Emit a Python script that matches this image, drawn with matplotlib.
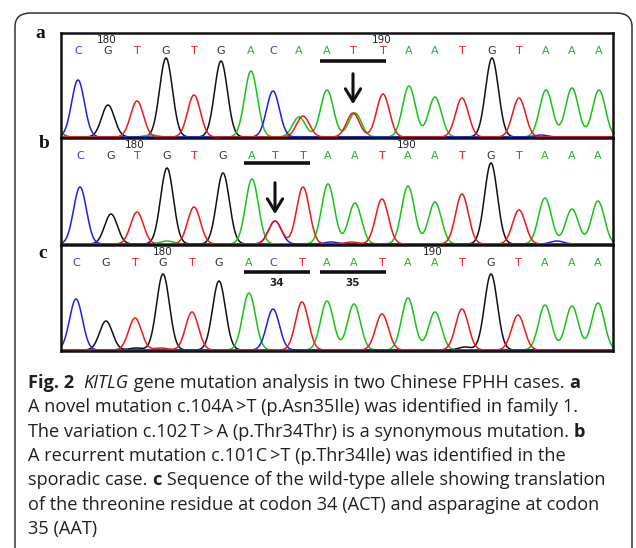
import numpy as np
import matplotlib
matplotlib.use('Agg')
import matplotlib.pyplot as plt
from matplotlib.patches import FancyBboxPatch

### data (positions in scan units, heights in signal units)

calls_a = 'CGTGTGACAATTAATGTAAA'
pos_a = [17, 47, 76, 105, 133, 160, 190, 212, 238, 266, 292, 322, 348, 374, 401, 431, 458, 485, 511, 538]
ht_a = [57, 32, 36, 79, 42, 76, 66, 46, 20, 47, 24, 43, 51, 40, 39, 79, 39, 47, 49, 47]
extra_a = [('T', -8, 10), ('T', 242, 21), ('A', 294, 24), ('A', 90, 2), ('C', 480, 2)]

calls_b = 'CGTGTGATTAATAATGTAAA'
pos_b = [19, 50, 76, 106, 133, 162, 191, 214, 242, 267, 294, 321, 347, 374, 401, 430, 458, 484, 511, 537]
ht_b = [57, 30, 32, 76, 37, 71, 65, 23, 57, 60, 41, 45, 58, 42, 50, 81, 34, 46, 35, 43]
extra_b = [('C', 214, 23), ('A', 106, 3), ('C', 496, 3), ('T', 290, 2), ('C', 270, 2)]

calls_c = 'CGTGTGACTAATAATGTAAA'
pos_c = [15, 45, 74, 102, 131, 158, 188, 212, 241, 266, 293, 321, 347, 374, 401, 430, 457, 484, 511, 537]
ht_c = [51, 29, 32, 76, 38, 69, 57, 41, 48, 49, 46, 36, 52, 38, 41, 76, 35, 45, 44, 47]
extra_c = [('G', 404, 3), ('G', 75, 2), ('T', 100, 2)]

# scan number markers
marks_a = [(46, '180'), (321, '190')]
marks_b = [(74, '180'), (346, '190')]
marks_c = [(102, '180'), (372, '190')]

caption = [
    [('Fig. 2', 'bold'), ('  ', 'normal'), ('KITLG', 'italic'),
     (' gene mutation analysis in two Chinese FPHH cases. ', 'normal'), ('a', 'bold')],
    [('A novel mutation c.104A\u2009>T (p.Asn35Ile) was identified in family 1.', 'normal')],
    [('The variation c.102\u2009T\u2009>\u2009A (p.Thr34Thr) is a synonymous mutation. ', 'normal'), ('b', 'bold')],
    [('A recurrent mutation c.101C\u2009>T (p.Thr34Ile) was identified in the', 'normal')],
    [('sporadic case. ', 'normal'), ('c', 'bold'),
     (' Sequence of the wild-type allele showing translation', 'normal')],
    [('of the threonine residue at codon 34 (ACT) and asparagine at codon', 'normal')],
    [('35 (AAT)', 'normal')],
]

### Helpers

W, H = 636, 548
trace_col = {'A': '#16c416', 'C': '#1f1fee', 'G': '#111111', 'T': '#f01818'}
call_col = {'A': '#22b822', 'C': '#3a3af0', 'G': '#333333', 'T': '#e82222'}
sigma = 6.4


def fx(x):
    return x / W


def fy(y):
    return 1 - y / H


def draw_panel(top, bot, calls, pos, ht, extra, marks):
    ax = fig.add_axes([fx(61), fy(bot), fx(613 - 61), (bot - top) / H])
    h = bot - top
    ax.set_xlim(0, 552)
    ax.set_ylim(-1, h - 1)
    xs = np.arange(-20, 575, 0.5)
    peaks = {b: [] for b in 'ACGT'}
    for c, p, v in zip(calls, pos, ht):
        peaks[c].append((p, v))
    for c, p, v in extra:
        peaks[c].append((p, v))
    for b in 'GACT':
        y = np.zeros_like(xs)
        for p, v in peaks[b]:
            y += v * np.exp(-0.5 * ((xs - p) / sigma) ** 2)
        ax.plot(xs, y, color=trace_col[b], lw=1.1, solid_joinstyle='miter')
    tr = ax.get_xaxis_transform()
    for c, p in zip(calls, pos):
        ax.text(p, 0.83, c, transform=tr, ha='center', va='center',
                color=call_col[c], fontsize=8, family='DejaVu Sans')
    for p, s in marks:
        ax.text(p, 0.935, s, transform=tr, ha='center', va='center',
                color='#222222', fontsize=7.5, family='DejaVu Sans')
    ax.set_xticks([])
    ax.set_yticks([])
    for s in ax.spines.values():
        s.set_linewidth(1.8)
        s.set_color('#111111')
    return ax


fig = plt.figure(figsize=(W / 100, H / 100), dpi=100)

# rounded outer frame (runs past the bottom of the picture)
frame = FancyBboxPatch((fx(15), fy(600)), fx(632 - 15), (600 - 13) / H,
                       boxstyle='round,pad=0,rounding_size=0.025',
                       transform=fig.transFigure, fill=False,
                       ec='#333333', lw=1.1)
fig.patches.append(frame)

ax_a = draw_panel(33, 138, calls_a, pos_a, ht_a, extra_a, marks_a)
ax_b = draw_panel(138, 245, calls_b, pos_b, ht_b, extra_b, marks_b)
ax_c = draw_panel(245, 351, calls_c, pos_c, ht_c, extra_c, marks_c)

arrow = dict(arrowstyle='->,head_length=0.9,head_width=0.55', color='#111111', lw=2.2)
# panel a: codon underline + arrow
ax_a.plot([259, 325], [0.735, 0.735], transform=ax_a.get_xaxis_transform(), color='#111111', lw=2.6,
          solid_capstyle='butt')
ax_a.annotate('', xy=(292, 30), xytext=(292, 66), arrowprops=arrow)
# panel b
ax_b.plot([183, 249], [0.77, 0.77], transform=ax_b.get_xaxis_transform(), color='#111111', lw=2.6,
          solid_capstyle='butt')
ax_b.annotate('', xy=(214, 27), xytext=(214, 64), arrowprops=arrow)
# panel c: codons 34 and 35
trc = ax_c.get_xaxis_transform()
for x0, x1, lab in [(183, 249, '34'), (259, 325, '35')]:
    ax_c.plot([x0, x1], [0.75, 0.75], transform=trc, color='#111111', lw=2.6, solid_capstyle='butt')
    ax_c.text((x0 + x1) / 2, 0.645, lab, transform=trc, ha='center', va='center',
              fontsize=7.5, fontweight='bold', family='DejaVu Sans', color='#222222')

for lab, x, y in [('a', 40, 33), ('b', 44, 143), ('c', 43, 253)]:
    fig.text(fx(x), fy(y), lab, ha='center', va='center', fontsize=14,
             fontweight='bold', family='Liberation Serif', color='#111111')

# caption, drawn piece by piece so bold/italic can be mixed inline
r = fig.canvas.get_renderer()
cap_fs = 13.1
for i, line in enumerate(caption):
    x = 28
    y = 383 + i * 24.3
    for s, style in line:
        kw = dict(fontsize=cap_fs, family='Open Sans', color='#231f20', va='center', ha='left')
        if style == 'bold':
            kw['fontweight'] = 'bold'
        if style == 'italic':
            kw['style'] = 'italic'
        t = fig.text(fx(x), fy(y), s, **kw)
        x += t.get_window_extent(r).width

fig.savefig('out.png', dpi=100)
plt.close(fig)
